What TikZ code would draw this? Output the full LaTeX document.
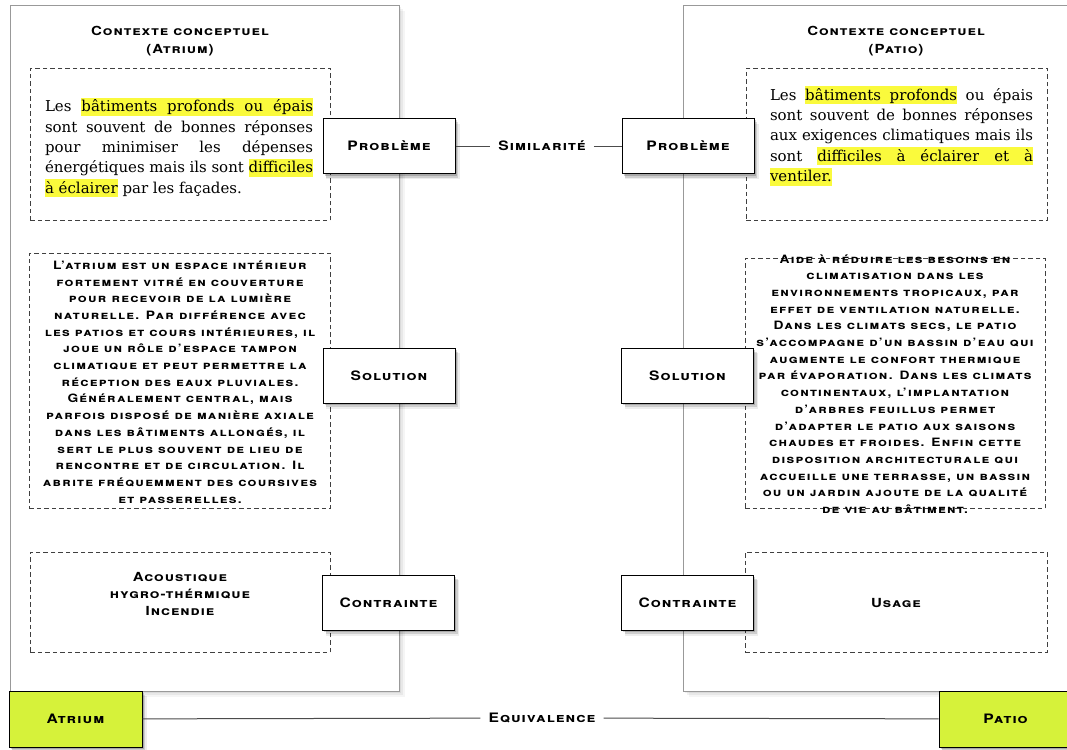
\documentclass[tikz,border=0pt]{standalone}
\usepackage{fontspec}
\setmainfont{DejaVu Serif}
\newfontfamily\capsfont[LetterSpace=8,FakeStretch=1.2]{TeX Gyre Heros}
\newfontfamily\paracapsfont[LetterSpace=11,FakeStretch=1.2]{TeX Gyre Heros}
\usetikzlibrary{shadows}
\definecolor{limeg}{RGB}{214,242,58}
\definecolor{hly}{RGB}{250,250,60}
\newcommand\hlw[1]{{\setlength{\fboxsep}{0pt}\colorbox{hly}{\rule[-4pt]{0pt}{18pt}#1}}}
\newcommand\hlsp{{\color{hly}\leaders\hrule height 14pt depth 4pt\hskip\fontdimen2\font plus\fontdimen3\font minus\fontdimen4\font}}
\newcommand\loosepar{\tolerance=9999\relax\hbadness=10000\relax\hfuzz=3pt\relax}
\begin{document}
\begin{tikzpicture}[x=1pt,y=-1pt,
  softshadow/.style={
    general shadow={shadow xshift=1.5pt, shadow yshift=-2pt, opacity=0.18, fill=black},
    general shadow={shadow xshift=3pt, shadow yshift=-4pt, opacity=0.13, fill=black},
    general shadow={shadow xshift=4pt, shadow yshift=-5.5pt, shadow scale=1.01, opacity=0.07, fill=black}},
  panelshadow/.style={
    general shadow={shadow xshift=2pt, shadow yshift=-2pt, opacity=0.06, fill=black},
    general shadow={shadow xshift=4pt, shadow yshift=-4pt, opacity=0.05, fill=black},
    general shadow={shadow xshift=6pt, shadow yshift=-6pt, opacity=0.04, fill=black}},
  panel/.style={draw=black!40, fill=white, line width=0.8pt, inner sep=0pt, anchor=north west, panelshadow},
  dbox/.style={draw=black!75, dash pattern=on 4.5pt off 3pt, line width=0.9pt, inner sep=0pt, anchor=north west},
  lbl/.style={draw=black, fill=white, line width=1pt, minimum width=132, minimum height=55, inner sep=0pt,
    font=\capsfont\bfseries\scshape\fontsize{13}{15}\selectfont, softshadow},
  key/.style={lbl, fill=limeg, minimum width=133, minimum height=56},
  conn/.style={draw=black!70, line width=1pt},
  tag/.style={fill=white, inner xsep=8pt, inner ysep=2pt, font=\capsfont\bfseries\scshape\fontsize{13}{15}\selectfont},
  head/.style={align=center, inner sep=0pt, font=\capsfont\bfseries\scshape\fontsize{12.5}{18}\selectfont},
  ctext/.style={align=center, inner sep=0pt, font=\capsfont\bfseries\scshape\fontsize{12.5}{17}\selectfont},
  para/.style={align=center, inner sep=0pt, font=\paracapsfont\bfseries\scshape\fontsize{11.5}{16.7}\selectfont},
  ser/.style={align=justify, inner sep=0pt, font=\fontsize{15}{20.3}\selectfont}
]
\useasboundingbox (0,0) rectangle (1067,749);
\fill[white] (0,0) rectangle (1067,749);

% panels
\node[panel, minimum width=389, minimum height=686] (lpanel) at (10,5) {};
\node[panel, minimum width=400, minimum height=686] (rpanel) at (683,5) {};

% headers
\node[head] (lhead) at (180,41) {Contexte conceptuel\\(Atrium)};
\node[head] (rhead) at (896,41) {Contexte conceptuel\\(Patio)};

% dashed boxes left
\node[dbox, minimum width=300, minimum height=152] (lpb) at (30,68) {};
\node[dbox, minimum width=301, minimum height=255] (lsb) at (29,253) {};
\node[dbox, minimum width=300, minimum height=100] (lcb) at (30,552) {};
% dashed boxes right
\node[dbox, minimum width=301, minimum height=152] (rpb) at (746,68) {};
\node[dbox, minimum width=300, minimum height=250] (rsb) at (745,258) {};
\node[dbox, minimum width=302, minimum height=100] (rcb) at (745,552) {};

% problem texts
\node[ser, text width=268] (lpt) at (179,147.5) {\loosepar Les \hlw{bâtiments}\hlsp\hlw{profonds}\hlsp\hlw{ou}\hlsp\hlw{épais}\linebreak
sont souvent de bonnes réponses\linebreak
pour minimiser les dépenses\linebreak
énergétiques mais ils sont \hlw{difficiles}\linebreak
\hlw{à}\hlsp\hlw{éclairer} par les façades.};
\node[ser, text width=263] (rpt) at (901.5,136) {\loosepar Les \hlw{bâtiments}\hlsp\hlw{profonds} ou épais\linebreak
sont souvent de bonnes réponses\linebreak
aux exigences climatiques mais ils\linebreak
sont \hlw{difficiles}\hlsp\hlw{à}\hlsp\hlw{éclairer}\hlsp\hlw{et}\hlsp\hlw{à}\linebreak
\hlw{ventiler.}};

% solution texts
\node[para] (lst) at (180,382) {L’atrium est un espace intérieur\\
fortement vitré en couverture\\
pour recevoir de la lumière\\
naturelle. Par différence avec\\
les patios et cours intérieures, il\\
joue un rôle d’espace tampon\\
climatique et peut permettre la\\
réception des eaux pluviales.\\
Généralement central, mais\\
parfois disposé de manière axiale\\
dans les bâtiments allongés, il\\
sert le plus souvent de lieu de\\
rencontre et de circulation. Il\\
abrite fréquemment des coursives\\
et passerelles.};
\node[para] (rst) at (895,384) {Aide à réduire les besoins en\\
climatisation dans les\\
environnements tropicaux, par\\
effet de ventilation naturelle.\\
Dans les climats secs, le patio\\
s’accompagne d’un bassin d’eau qui\\
augmente le confort thermique\\
par évaporation. Dans les climats\\
continentaux, l’implantation\\
d’arbres feuillus permet\\
d’adapter le patio aux saisons\\
chaudes et froides. Enfin cette\\
disposition architecturale qui\\
accueille une terrasse, un bassin\\
ou un jardin ajoute de la qualité\\
de vie au bâtiment.};

% constraint texts
\node[ctext] (lct) at (180,594) {Acoustique\\hygro-thérmique\\Incendie};
\node[ctext] (rct) at (896,603) {Usage};

% label boxes
\node[lbl] (lprob) at (389,146) {Problème};
\node[lbl] (rprob) at (688,146) {Problème};
\node[lbl] (lsol) at (389,375.5) {Solution};
\node[lbl] (rsol) at (687.5,375.5) {Solution};
\node[lbl] (lcon) at (388.5,602.5) {Contrainte};
\node[lbl] (rcon) at (687.5,602.5) {Contrainte};

% key boxes
\node[key] (atrium) at (75.5,719) {Atrium};
\node[key] (patio) at (1005.5,719) {Patio};

% connectors
\node[tag] (sim) at (542,146) {Similarité};
\draw[conn] (lprob) -- (sim);
\draw[conn] (sim) -- (rprob);
\node[tag] (equ) at (542,718) {Equivalence};
\draw[conn] (atrium) -- (equ);
\draw[conn] (equ) -- (patio);
\end{tikzpicture}
\end{document}
